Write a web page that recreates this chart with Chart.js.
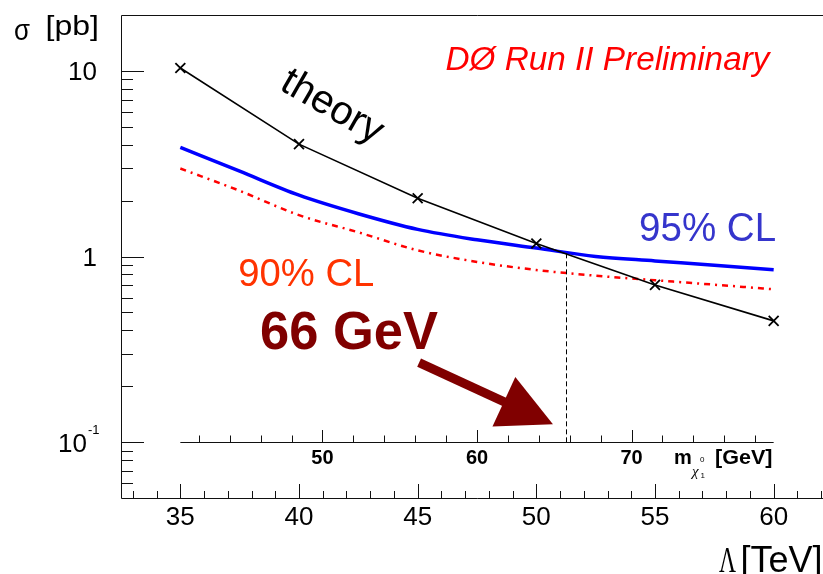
<!DOCTYPE html>
<html>
<head>
<meta charset="utf-8">
<script src="https://cdn.jsdelivr.net/npm/chart.js@4/dist/chart.umd.min.js"></script>
<style>
  html, body { margin: 0; padding: 0; background: #fff; overflow: hidden; width: 823px; height: 574px; }
  canvas { display: block; }
</style>
</head>
<body>
<canvas id="c" width="840" height="574"></canvas>
<script>
// GMSB neutralino search: cross section vs. SUSY breaking scale Lambda
const lambdaTheory = [35, 40, 45, 50, 55, 60];
const sigmaTheory  = [10.36, 4.03, 2.06, 1.175, 0.703, 0.45];

const lambdaLimit  = [35, 37.5, 40, 42.5, 45, 47.5, 50, 52.5, 55, 57.5, 60];
const sigmaLimit95 = [3.87, 2.88, 2.14, 1.70, 1.40, 1.23, 1.11, 1.0, 0.947, 0.898, 0.849];
const sigmaLimit90 = [2.98, 2.26, 1.67, 1.35, 1.08, 0.935, 0.846, 0.788, 0.745, 0.705, 0.666];

// excluded Lambda where the 95% CL limit meets the theory curve
const lambdaExcluded = 51.23;

// axis ticks and labels
const lambdaMajorTicks = [35, 40, 45, 50, 55, 60];
const sigmaMajorTicks  = [0.1, 1, 10];
const sigmaTickLabels  = ['10^-1', '1', '10'];
const massMajorTicks   = [50, 60, 70];

// neutralino mass scale drawn along sigma = 0.1 (linear in Lambda)
const massScaleLambda = [35, 60];
const massScaleGeV    = [40.8, 79.2];

const SANS  = '"Liberation Sans", Arial, Helvetica, sans-serif';
const SERIF = '"Liberation Serif", "Times New Roman", serif';

function lambdaToMass(L) {
  return massScaleGeV[0] + (L - massScaleLambda[0]) *
    (massScaleGeV[1] - massScaleGeV[0]) / (massScaleLambda[1] - massScaleLambda[0]);
}
function massToLambda(m) {
  return massScaleLambda[0] + (m - massScaleGeV[0]) *
    (massScaleLambda[1] - massScaleLambda[0]) / (massScaleGeV[1] - massScaleGeV[0]);
}

function pts(xs, ys) { return xs.map((x, i) => ({ x, y: ys[i] })); }

function text(ctx, str, x, y, font, color, opt = {}) {
  ctx.save();
  ctx.font = font;
  ctx.fillStyle = color;
  ctx.textAlign = opt.align || 'left';
  ctx.textBaseline = opt.baseline || 'alphabetic';
  ctx.translate(x, y);
  if (opt.rotate) ctx.rotate(opt.rotate * Math.PI / 180);
  if (opt.width) {
    const w = ctx.measureText(str).width;
    ctx.scale(opt.width / w, 1);
  }
  ctx.fillText(str, 0, 0);
  ctx.restore();
}

const crisp = v => Math.round(v) + 0.5;

const decorations = {
  id: 'decorations',
  afterDatasetsDraw(chart) {
    const { ctx, chartArea: a, scales: { x, y } } = chart;
    const px = v => x.getPixelForValue(v);
    const py = v => y.getPixelForValue(v);

    ctx.save();

    // dashed marker of the excluded region
    ctx.strokeStyle = '#000';
    ctx.lineWidth = 1;
    ctx.setLineDash([5, 3]);
    ctx.beginPath();
    const xe = crisp(px(lambdaExcluded));
    ctx.moveTo(xe, py(1.04));
    ctx.lineTo(xe, py(0.1));
    ctx.stroke();
    ctx.setLineDash([]);

    // frame
    ctx.strokeStyle = '#111';
    ctx.lineWidth = 1;
    ctx.beginPath();
    ctx.moveTo(crisp(a.left), crisp(a.bottom));
    ctx.lineTo(crisp(a.left), crisp(a.top));
    ctx.lineTo(a.right, crisp(a.top));
    ctx.moveTo(crisp(a.left), crisp(a.bottom));
    ctx.lineTo(a.right, crisp(a.bottom));
    ctx.stroke();

    // y ticks (log decades, pointing inward)
    ctx.beginPath();
    for (let e = -2; e <= 1; e++) {
      for (let k = 1; k <= 9; k++) {
        const v = k * Math.pow(10, e);
        if (v <= y.min || v >= y.max) continue;
        const len = k === 1 ? 23 : 12;
        const yy = crisp(py(v));
        ctx.moveTo(a.left, yy);
        ctx.lineTo(a.left + len, yy);
      }
    }
    // x ticks
    for (let L = Math.ceil(x.min); L <= x.max; L++) {
      const len = L % 5 === 0 ? 14 : 7;
      const xx = crisp(px(L));
      ctx.moveTo(xx, a.bottom);
      ctx.lineTo(xx, a.bottom - len);
    }
    ctx.stroke();

    // tick labels
    lambdaMajorTicks.forEach(L => {
      text(ctx, String(L), px(L), 525, '26px ' + SANS, '#000', { align: 'center' });
    });
    sigmaMajorTicks.forEach((v, i) => {
      const lab = sigmaTickLabels[i];
      const yy = py(v) + 9.5;
      if (lab.includes('^')) {
        const [base, exp] = lab.split('^');
        text(ctx, base, 87, yy, '26px ' + SANS, '#000', { align: 'right' });
        text(ctx, exp, 88, yy - 18, '13px ' + SANS, '#000');
      } else {
        text(ctx, lab, 97, yy, '26px ' + SANS, '#000', { align: 'right' });
      }
    });

    // axis titles
    text(ctx, 'σ', 14, 40, '29px ' + SANS, '#000', { width: 16 });
    text(ctx, '[pb]', 45.5, 35, '27px ' + SANS, '#000', { width: 53.5 });
    text(ctx, 'Λ', 719, 572, '36px ' + SERIF, '#000', { width: 17 });
    text(ctx, '[TeV]', 740.5, 572, '36px ' + SANS, '#000');

    // neutralino mass axis along sigma = 0.1
    const ym = crisp(py(0.1));
    ctx.strokeStyle = '#111';
    ctx.beginPath();
    ctx.moveTo(px(massScaleLambda[0]), ym);
    ctx.lineTo(px(massScaleLambda[1]), ym);
    for (let m = Math.ceil(massScaleGeV[0] / 2) * 2; m <= massScaleGeV[1]; m += 2) {
      const len = m % 10 === 0 ? 12.5 : 7;
      const xx = crisp(px(massToLambda(m)));
      ctx.moveTo(xx, ym);
      ctx.lineTo(xx, ym - len);
    }
    ctx.stroke();
    massMajorTicks.forEach(m => {
      text(ctx, String(m), px(massToLambda(m)), 464, 'bold 20px ' + SANS, '#000', { align: 'center' });
    });
    text(ctx, 'm', 674, 464, 'bold 20px ' + SANS, '#000');
    text(ctx, 'χ', 692, 476, 'italic 15px ' + SERIF, '#000');
    text(ctx, '0', 700, 462, '8px ' + SANS, '#000');
    text(ctx, '1', 700.5, 478, '8px ' + SANS, '#000');
    text(ctx, '[GeV]', 715, 464, 'bold 20px ' + SANS, '#000', { width: 57.5 });

    // annotations
    text(ctx, 'DØ Run II Preliminary', px(46.17), py(10.14), 'italic 33px ' + SANS, '#ff0000', { width: 324 });
    text(ctx, 'theory', px(41.39), py(6.38), '40px ' + SANS, '#000', { align: 'center', baseline: 'middle', rotate: 30 });
    text(ctx, '95% CL', px(54.33), py(1.214), '41px ' + SANS, '#3535cc', { width: 137 });
    text(ctx, '90% CL', px(37.44), py(0.694), '39px ' + SANS, '#ff3300', { width: 136 });
    const massLimit = Math.round(lambdaToMass(lambdaExcluded));
    text(ctx, massLimit + ' GeV', px(38.36), py(0.3165), 'bold 53px ' + SANS, '#800000', { width: 178 });

    // arrow pointing at the mass limit
    const x0 = px(45.06), y0 = py(0.268), x1 = px(50.70), y1 = py(0.1247);
    const dx = x1 - x0, dy = y1 - y0, d = Math.hypot(dx, dy);
    const ux = dx / d, uy = dy / d;
    const headLen = 54, headHalf = 27.3;
    const bx = x1 - ux * headLen, by = y1 - uy * headLen;
    ctx.strokeStyle = '#800000';
    ctx.fillStyle = '#800000';
    ctx.lineWidth = 9;
    ctx.lineCap = 'butt';
    ctx.beginPath();
    ctx.moveTo(x0, y0);
    ctx.lineTo(bx + ux * 4, by + uy * 4);
    ctx.stroke();
    ctx.beginPath();
    ctx.moveTo(x1, y1);
    ctx.lineTo(bx - uy * headHalf, by + ux * headHalf);
    ctx.lineTo(bx + uy * headHalf, by - ux * headHalf);
    ctx.closePath();
    ctx.fill();

    ctx.restore();
  }
};

new Chart(document.getElementById('c'), {
  type: 'line',
  data: {
    datasets: [
      {
        label: 'theory',
        data: pts(lambdaTheory, sigmaTheory),
        borderColor: '#000',
        borderWidth: 1.6,
        tension: 0,
        pointStyle: 'crossRot',
        pointRadius: 7,
        pointBorderWidth: 1.8,
        pointBorderColor: '#000',
        pointBackgroundColor: '#000'
      },
      {
        label: '95% CL',
        data: pts(lambdaLimit, sigmaLimit95),
        borderColor: '#0000ff',
        borderWidth: 3.5,
        cubicInterpolationMode: 'monotone',
        pointRadius: 0
      },
      {
        label: '90% CL',
        data: pts(lambdaLimit, sigmaLimit90),
        borderColor: '#ff0000',
        borderWidth: 2.5,
        borderDash: [6, 5, 2, 5],
        cubicInterpolationMode: 'monotone',
        pointRadius: 0
      }
    ]
  },
  options: {
    responsive: false,
    animation: false,
    events: [],
    layout: { autoPadding: false, padding: { left: 121, top: 15, right: 7, bottom: 76 } },
    plugins: { legend: { display: false }, tooltip: { enabled: false } },
    scales: {
      x: {
        type: 'linear', min: 32.5, max: 62.5,
        ticks: { display: false }, grid: { display: false }, border: { display: false },
        afterFit: s => { s.height = 0; }
      },
      y: {
        type: 'logarithmic', min: 0.05, max: 20,
        ticks: { display: false }, grid: { display: false }, border: { display: false },
        afterFit: s => { s.width = 0; }
      }
    }
  },
  plugins: [decorations]
});
</script>
</body>
</html>
